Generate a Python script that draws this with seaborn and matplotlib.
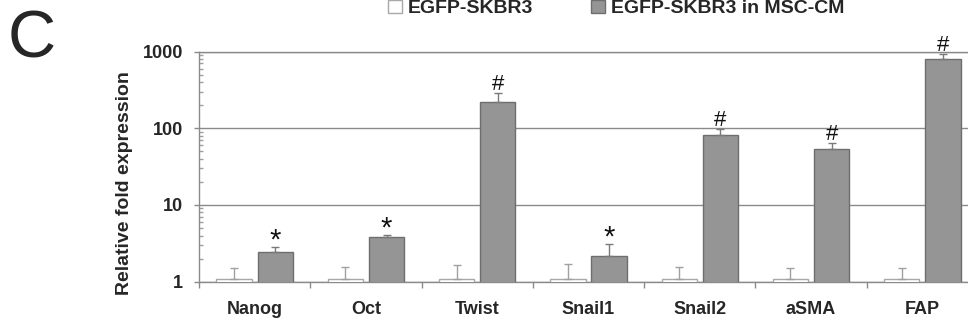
import numpy as np
import pandas as pd
import seaborn as sns
import matplotlib.pyplot as plt
from matplotlib.patches import Patch
from matplotlib.ticker import FixedLocator, NullFormatter, FixedFormatter

# Data (relative fold expression, log scale)
genes = ["Nanog", "Oct", "Twist", "Snail1", "Snail2", "aSMA", "FAP"]
groups = ["EGFP-SKBR3", "EGFP-SKBR3 in MSC-CM"]
ctrl_mean = [1.1, 1.1, 1.1, 1.1, 1.1, 1.1, 1.1]
ctrl_top = [1.49, 1.55, 1.65, 1.70, 1.55, 1.49, 1.49]
cm_mean = [2.44, 3.85, 221, 2.18, 81.3, 54, 794]
cm_top = [2.81, 4.06, 284, 3.12, 96.5, 64, 914]
marks = ["*", "*", "#", "*", "#", "#", "#"]

sns.set_theme(style="white")
plt.rcParams["font.family"] = ["Liberation Sans", "DejaVu Sans"]

df = pd.DataFrame({
    "gene": genes * 2,
    "group": [groups[0]] * len(genes) + [groups[1]] * len(genes),
    "value": ctrl_mean + cm_mean,
})

fills = ["#ffffff", "#959595"]
edges = ["#a8a8a8", "#6e6e6e"]
err_colors = ["#a0a0a0", "#7a7a7a"]

fig = plt.figure(figsize=(9.68, 3.24), dpi=100)
ax = fig.add_axes([199 / 968, 42.3 / 324, 779 / 968, 230.2 / 324])

sns.barplot(data=df, x="gene", y="value", hue="group", order=genes,
            hue_order=groups, palette=fills, width=0.74, gap=0.145,
            errorbar=None, linewidth=1, ax=ax, zorder=3)
ax.set_yscale("log")
ax.set_ylim(1, 1000)
ax.set_xlim(-0.5, 6.5)

tops = [ctrl_top, cm_top]
means = [ctrl_mean, cm_mean]
bar_groups = list(ax.containers)
for i, cont in enumerate(bar_groups):
    xs = []
    for bar in cont:
        bar.set_edgecolor(edges[i])
        bar.set_linewidth(1)
        xs.append(bar.get_x() + bar.get_width() / 2)
    up = np.array(tops[i]) - np.array(means[i])
    ax.errorbar(xs, means[i], yerr=[np.zeros(len(up)), up], fmt="none",
                ecolor=err_colors[i], elinewidth=1, capsize=2.6, capthick=1,
                zorder=4)
    if i == 1:
        for x, t, m in zip(xs, tops[i], marks):
            dy = 2.2 if m == "#" else -1.0
            size = 16 if m == "#" else 21
            ax.annotate(m, (x, t), xytext=(0, dy), textcoords="offset points",
                        ha="center", va="baseline", fontsize=size,
                        color="#111111", annotation_clip=False)

# grid and spines
ax.yaxis.grid(True, which="major", color="#8a8a8a", linewidth=1, zorder=0)
ax.set_axisbelow(True)
for side in ["left", "bottom", "top"]:
    ax.spines[side].set_visible(True)
    ax.spines[side].set_color("#8a8a8a")
    ax.spines[side].set_linewidth(1)
ax.spines["right"].set_visible(False)

# y ticks
ax.yaxis.set_major_locator(FixedLocator([1, 10, 100, 1000]))
ax.yaxis.set_major_formatter(FixedFormatter(["1", "10", "100", "1000"]))
ax.yaxis.set_minor_locator(FixedLocator(
    [m * 10 ** d for d in range(3) for m in range(2, 10)]))
ax.yaxis.set_minor_formatter(NullFormatter())
ax.tick_params(axis="y", which="major", direction="out", length=3.6,
               width=1, color="#8a8a8a", pad=8, labelsize=13, left=True)
ax.tick_params(axis="y", which="minor", direction="in", length=3,
               width=1, color="#a0a0a0", left=True)
for lab in ax.get_yticklabels():
    lab.set_fontweight("bold")

# x ticks: labels at centres, separator ticks at boundaries
ax.set_xticks(range(len(genes)))
ax.set_xticklabels(genes, fontsize=13, fontweight="bold")
ax.xaxis.set_minor_locator(FixedLocator(np.arange(-0.5, 7, 1)))
ax.tick_params(axis="x", which="major", length=0, pad=14)
ax.tick_params(axis="x", which="minor", direction="out", length=4,
               width=1, color="#8a8a8a", bottom=True)

ax.set_xlabel("")
ax.set_ylabel("Relative fold expression", fontsize=14, fontweight="bold")
ax.yaxis.set_label_coords(-0.085, 0.4266)

# legend at the top of the figure
ax.get_legend().remove()
handles = [Patch(facecolor=fills[i], edgecolor=edges[i], linewidth=1)
           for i in range(2)]
fig.legend(handles, groups, loc="center", bbox_to_anchor=(616 / 968, 1 - 8.5 / 324),
           ncol=2, frameon=False, borderpad=0, handlelength=0.7,
           handleheight=0.7, handletextpad=0.3, columnspacing=3.0,
           prop={"size": 14, "weight": "bold"})

fig.text(32 / 968, 1 - 41 / 324, "C", fontsize=48, ha="center", va="center")

fig.savefig("out.png", dpi=100)
